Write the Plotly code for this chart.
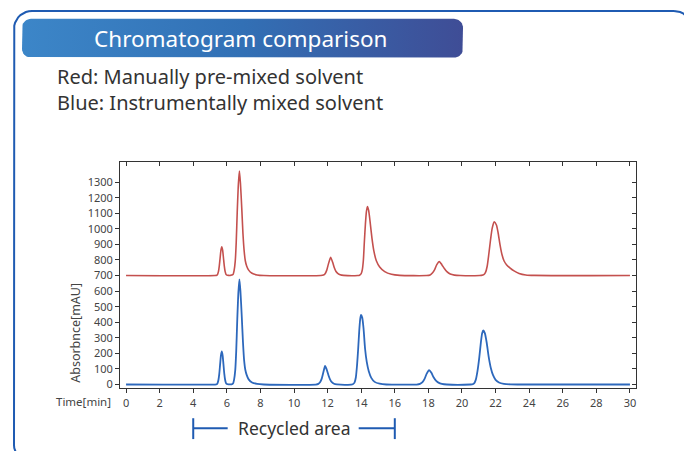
"""Chromatogram comparison: manually pre-mixed vs instrumentally mixed solvent."""

import numpy as np
import plotly.graph_objects as go

W, H = 684, 454
_FONT = "Noto Sans"
_INK = "#333333"
_TICK_INK = "#444444"
_RED = "#c4504e"
_BLUE = "#2d68bc"
_FRAME = "#1f5bb2"

# Red trace: manually pre-mixed solvent (time in min, absorbance in mAU)
red_time = [
    0.0, 5.30, 5.40, 5.45, 5.50, 5.55, 5.60, 5.65, 5.70, 5.75, 5.80, 5.85, 5.90,
    5.95, 6.00, 6.10, 6.20, 6.30, 6.37, 6.43, 6.50, 6.56, 6.62, 6.69, 6.75, 6.81,
    6.89, 6.96, 7.03, 7.10, 7.18, 7.30, 7.50, 7.80, 8.20,
    11.60, 11.75, 11.85, 11.95, 12.05, 12.18, 12.30, 12.40, 12.50, 12.62, 12.75, 12.95,
    13.80, 13.90, 14.00, 14.07, 14.13, 14.19, 14.25, 14.31, 14.37, 14.44, 14.52, 14.64,
    14.75, 14.90, 15.10, 15.40, 15.80, 16.30,
    17.90, 18.10, 18.25, 18.38, 18.50, 18.65, 18.80, 18.95, 19.10, 19.30, 19.55, 19.90,
    21.05, 21.15, 21.30, 21.40, 21.50, 21.60, 21.70, 21.80, 21.92, 22.05, 22.15, 22.26,
    22.38, 22.50, 22.65, 22.85, 23.10, 23.40, 23.80, 24.30, 30.0,
]
red_abs = [
    700, 700, 702, 708, 725, 760, 813, 863, 885, 863, 813, 760, 725,
    708, 703, 701, 701, 704, 707, 730, 791, 915, 1110, 1291, 1372, 1295,
    1130, 970, 860, 795, 762, 735, 715, 704, 700,
    700, 703, 712, 735, 775, 818, 785, 750, 726, 712, 705, 701,
    700, 702, 712, 740, 800, 920, 1030, 1110, 1144, 1120, 1055, 940,
    860, 795, 755, 725, 708, 701,
    700, 704, 718, 740, 770, 790, 770, 745, 725, 710, 703, 700,
    700, 701, 706, 720, 760, 840, 930, 1005, 1045, 1025, 975, 900,
    835, 795, 770, 750, 730, 714, 704, 701, 700,
]

# Blue trace: instrumentally mixed solvent
blue_time = [
    0.0, 5.30, 5.40, 5.45, 5.50, 5.55, 5.60, 5.65, 5.70, 5.75, 5.80, 5.85, 5.90,
    5.95, 6.00, 6.10, 6.20, 6.28, 6.37, 6.43, 6.50, 6.56, 6.62, 6.69, 6.75, 6.81,
    6.89, 6.96, 7.03, 7.10, 7.18, 7.30, 7.50, 7.80, 8.20,
    11.30, 11.45, 11.55, 11.65, 11.75, 11.85, 11.95, 12.05, 12.15, 12.25, 12.38, 12.55,
    13.40, 13.50, 13.60, 13.68, 13.75, 13.82, 13.88, 13.94, 13.99, 14.06, 14.14, 14.23,
    14.33, 14.45, 14.60, 14.80, 15.10, 15.50,
    17.30, 17.50, 17.65, 17.78, 17.90, 18.04, 18.18, 18.30, 18.45, 18.60, 18.80, 19.10,
    20.50, 20.60, 20.72, 20.82, 20.92, 21.03, 21.13, 21.20, 21.27, 21.36, 21.47, 21.59,
    21.72, 21.85, 22.00, 22.20, 22.50, 22.90, 23.30, 30.0,
]
blue_abs = [
    0, 0, 2, 9, 29, 68, 129, 187, 212, 187, 129, 68, 29,
    9, 3, 1, 1, 1, 7, 30, 91, 216, 412, 595, 676, 600,
    435, 275, 155, 95, 62, 33, 13, 4, 0,
    0, 4, 14, 38, 80, 120, 95, 60, 32, 15, 5, 1,
    0, 2, 12, 45, 120, 230, 340, 420, 447, 430, 360, 230,
    145, 85, 43, 17, 5, 0,
    0, 4, 15, 38, 70, 93, 75, 48, 25, 12, 4, 0,
    0, 1, 8, 30, 85, 175, 275, 330, 347, 330, 270, 178,
    105, 60, 30, 13, 4, 1, 0, 0,
]

x_ticks = list(range(0, 31, 2))
y_ticks = list(range(0, 1301, 100))
x_range = [-0.36, 30.36]
y_range = [-25, 1430]

recycled_start, recycled_end = 4, 16

# plot box in page pixels
PL, PR, PT, PB = 120, 636, 163, 391


def px(x):
    return x / W


def py(y):
    return 1 - y / H


def rounded_rect(x0, y0, x1, y1, r, n=10):
    """Closed polygon (page pixels) for a rounded rectangle."""
    pts = []
    corners = [
        (x1 - r, y0 + r, -np.pi / 2, 0),
        (x1 - r, y1 - r, 0, np.pi / 2),
        (x0 + r, y1 - r, np.pi / 2, np.pi),
        (x0 + r, y0 + r, np.pi, 1.5 * np.pi),
    ]
    for cx, cy, a0, a1 in corners:
        for a in np.linspace(a0, a1, n):
            pts.append((cx + r * np.cos(a), cy + r * np.sin(a)))
    pts.append(pts[0])
    xs, ys = zip(*pts)
    return list(xs), list(ys)


fig = go.Figure()

# page-level decoration drawn on a pixel overlay
fx, fy = rounded_rect(14, 11, 692, 466, 18)
fig.add_trace(go.Scatter(
    x=fx, y=fy, xaxis="x3", yaxis="y3", mode="lines",
    line=dict(color=_FRAME, width=2), hoverinfo="skip", showlegend=False,
))
bx, by = rounded_rect(22, 19, 463, 58, 9)
fig.add_trace(go.Scatter(
    x=bx, y=by, xaxis="x3", yaxis="y3", mode="lines", fill="toself",
    line=dict(width=0, color="#3572b6"),
    fillgradient=dict(
        type="horizontal",
        colorscale=[[0, "#3c86c8"], [0.5, "#3270b5"], [1, "#3f4d96"]],
    ),
    hoverinfo="skip", showlegend=False,
))

fig.add_trace(go.Scatter(
    x=red_time, y=red_abs, mode="lines",
    line=dict(color=_RED, width=1.6, shape="spline", smoothing=0.6),
    hoverinfo="skip", showlegend=False,
))
fig.add_trace(go.Scatter(
    x=blue_time, y=blue_abs, mode="lines",
    line=dict(color=_BLUE, width=1.8, shape="spline", smoothing=0.6),
    hoverinfo="skip", showlegend=False,
))

axis_common = dict(
    showgrid=False, zeroline=False, showline=True, linecolor="#333333",
    linewidth=1, tickcolor="#333333", ticklen=4,
    tickfont=dict(family=_FONT, size=11, color=_TICK_INK),
)

fig.update_layout(
    width=W, height=H,
    margin=dict(l=0, r=0, t=0, b=0, pad=0),
    paper_bgcolor="white", plot_bgcolor="rgba(0,0,0,0)",
    xaxis=dict(
        domain=[px(PL), px(PR)], range=x_range, tickmode="array",
        tickvals=x_ticks, ticks="outside", mirror=True, anchor="y",
        **axis_common,
    ),
    yaxis=dict(
        domain=[py(PB), py(PT)], range=y_range, tickmode="array",
        tickvals=y_ticks, ticks="outside", mirror=True, anchor="x",
        **axis_common,
    ),
    xaxis2=dict(
        overlaying="x", side="top", anchor="y", range=x_range,
        tickmode="array", tickvals=x_ticks, ticks="inside", ticklen=4,
        tickcolor="#333333", showticklabels=False, showgrid=False,
        zeroline=False, showline=False,
    ),
    yaxis2=dict(
        overlaying="y", side="right", anchor="x", range=y_range,
        tickmode="array", tickvals=y_ticks, ticks="inside", ticklen=4,
        tickcolor="#333333", showticklabels=False, showgrid=False,
        zeroline=False, showline=False,
    ),
    xaxis3=dict(domain=[0, 1], range=[0, W], visible=False, anchor="y3",
                fixedrange=True),
    yaxis3=dict(domain=[0, 1], range=[H, 0], visible=False, anchor="x3",
                fixedrange=True),
)

# dummy trace so the mirror axes render
fig.add_trace(go.Scatter(x=[None], y=[None], xaxis="x2", yaxis="y2",
                         showlegend=False, hoverinfo="skip"))

annotations = [
    dict(text="Chromatogram comparison", x=px(240), y=py(39),
         font=dict(family=_FONT, size=22.5, color="white")),
    dict(text="Red: Manually pre-mixed solvent", x=px(55), y=py(77),
         xanchor="left", font=dict(family=_FONT, size=20, color=_INK)),
    dict(text="Blue: Instrumentally mixed solvent", x=px(55), y=py(103),
         xanchor="left", font=dict(family=_FONT, size=20, color=_INK)),
    dict(text="Absorbnce[mAU]", x=px(76), y=py(335), textangle=-90,
         font=dict(family=_FONT, size=12.5, color=_TICK_INK)),
    dict(text="Time[min]", x=px(113), y=py(404), xanchor="right",
         font=dict(family=_FONT, size=11.5, color=_TICK_INK)),
]
for a in annotations:
    a.update(xref="paper", yref="paper", showarrow=False)
    a.setdefault("xanchor", "center")
    a.setdefault("yanchor", "middle")
fig.update_layout(annotations=annotations)

# "Recycled area" bracket under the time axis
mid = (recycled_start + recycled_end) / 2
fig.add_annotation(
    text="Recycled area", x=mid, xref="x", y=py(431), yref="paper",
    xanchor="center", yanchor="middle", showarrow=False,
    font=dict(family=_FONT, size=17.5, color=_INK),
)
bracket = dict(color=_FRAME, width=2)
for x0, x1 in [(recycled_start, recycled_start + 2.05),
               (recycled_end - 2.15, recycled_end)]:
    fig.add_shape(type="line", xref="x", yref="paper", x0=x0, x1=x1,
                  y0=py(431), y1=py(431), line=bracket)
for xv in (recycled_start, recycled_end):
    fig.add_shape(type="line", xref="x", yref="paper", x0=xv, x1=xv,
                  y0=py(421), y1=py(442), line=bracket)

fig.write_html(
    "out.html",
    config={"displayModeBar": False},
    post_script="document.body.style.margin='0';",
)
